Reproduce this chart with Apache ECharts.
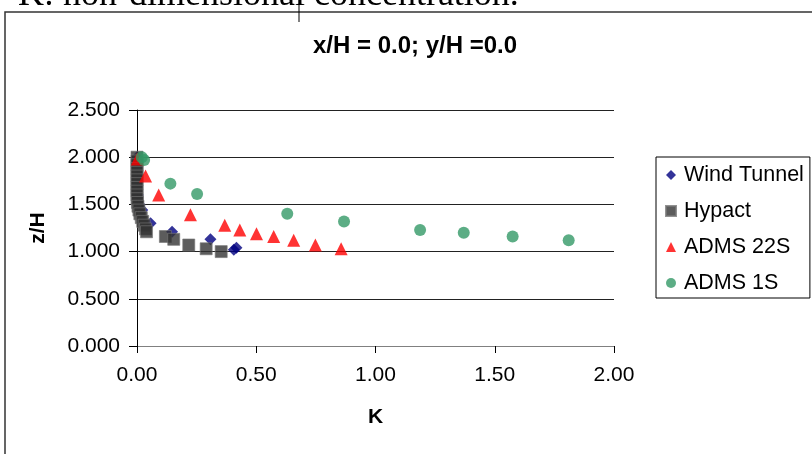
<!DOCTYPE html>
<html>
<head>
<meta charset="utf-8">
<script src="https://cdn.jsdelivr.net/npm/echarts@6/dist/echarts.min.js"></script>
<style>
  html, body { margin: 0; padding: 0; background: #fff; }
  #main { width: 812px; height: 454px; }
</style>
</head>
<body>
<div id="main"></div>
<script>
// values, [K, z/H]
var windTunnel = [
  [0.000, 2.00], [0.000, 1.90], [0.000, 1.80], [0.000, 1.70], [0.004, 1.60],
  [0.010, 1.50], [0.022, 1.44], [0.057, 1.30], [0.147, 1.21], [0.308, 1.13],
  [0.406, 1.02], [0.417, 1.04]
];
var hypact = [
  [0.000, 2.00], [0.000, 1.96], [0.000, 1.92], [0.000, 1.88], [0.000, 1.84],
  [0.000, 1.80], [0.000, 1.76], [0.000, 1.72], [0.000, 1.68], [0.000, 1.64],
  [0.000, 1.60], [0.000, 1.56], [0.002, 1.52], [0.004, 1.48], [0.008, 1.44],
  [0.012, 1.40], [0.018, 1.36], [0.024, 1.32], [0.030, 1.28], [0.036, 1.24],
  [0.040, 1.21], [0.119, 1.16], [0.154, 1.13], [0.217, 1.07], [0.290, 1.03],
  [0.353, 1.00]
];
var adms22S = [
  [0.001, 1.98], [0.036, 1.80], [0.091, 1.60], [0.224, 1.39], [0.368, 1.28],
  [0.431, 1.23], [0.501, 1.19], [0.573, 1.16], [0.657, 1.12], [0.748, 1.07],
  [0.856, 1.03]
];
var adms1S = [
  [0.020, 2.00], [0.030, 1.97], [0.140, 1.72], [0.252, 1.61], [0.630, 1.40],
  [0.868, 1.32], [1.187, 1.23], [1.370, 1.20], [1.575, 1.16], [1.810, 1.12]
];
var seriesNames = ['Wind Tunnel', 'Hypact', 'ADMS 22S', 'ADMS 1S'];

var myChart = echarts.init(document.getElementById('main'));
var font = 'Arial, "Liberation Sans", sans-serif';

var option = {
  animation: false,
  backgroundColor: '#fff',
  title: {
    text: 'x/H = 0.0; y/H =0.0',
    left: 410,
    textAlign: 'center',
    top: 29,
    textStyle: { fontFamily: font, fontWeight: 'bold', fontSize: 24, color: '#000' }
  },
  graphic: [
    {
      type: 'text', left: 18, top: -22,
      style: { text: 'K: non-dimensional concentration.', font: '36px "Liberation Serif", "Times New Roman", serif', fill: '#000' }
    },
    {
      type: 'rect', shape: { x: 5, y: 12, width: 1000, height: 1000 },
      style: { fill: 'none', stroke: '#333', lineWidth: 1.5 }, z: 10
    },
    {
      type: 'line', shape: { x1: 299, y1: 0, x2: 299, y2: 22 },
      style: { stroke: '#000', lineWidth: 1 }, z: 11
    }
  ],
  legend: {
    data: seriesNames,
    orient: 'vertical',
    left: 656,
    top: 157,
    padding: [7, 6, 4, 9],
    itemGap: 14,
    itemWidth: 10,
    itemHeight: 10,
    borderColor: '#000',
    borderWidth: 1,
    borderRadius: 0,
    textStyle: { fontFamily: font, fontSize: 21.5, color: '#000', padding: [0, 0, 0, 3] }
  },
  grid: { left: 137, right: 198, top: 110, bottom: 108 },
  xAxis: {
    type: 'value',
    min: 0, max: 2, interval: 0.5,
    name: 'K',
    nameLocation: 'middle',
    nameGap: 61,
    nameTextStyle: { fontFamily: font, fontWeight: 'bold', fontSize: 21, color: '#000' },
    axisLine: { lineStyle: { color: '#808080', width: 1 } },
    axisTick: { length: 7, lineStyle: { color: '#000' } },
    axisLabel: {
      fontFamily: font, fontSize: 21, color: '#000', margin: 19,
      formatter: function (v) { return v.toFixed(2); }
    },
    splitLine: { show: false }
  },
  yAxis: {
    type: 'value',
    min: 0, max: 2.5, interval: 0.5,
    name: 'z/H',
    nameLocation: 'middle',
    nameRotate: 90,
    nameGap: 88,
    nameTextStyle: { fontFamily: font, fontWeight: 'bold', fontSize: 21, color: '#000' },
    axisLine: { show: true, lineStyle: { color: '#000', width: 1 } },
    axisTick: { show: true, length: 8, lineStyle: { color: '#000' } },
    axisLabel: {
      fontFamily: font, fontSize: 21, color: '#000', margin: 17,
      formatter: function (v) { return v.toFixed(3); }
    },
    splitLine: { show: true, lineStyle: { color: '#222', width: 1 } }
  },
  series: [
    {
      name: seriesNames[0], type: 'scatter', data: windTunnel,
      symbol: 'diamond', symbolSize: 12,
      itemStyle: { color: '#000080' }
    },
    {
      name: seriesNames[1], type: 'scatter', data: hypact,
      symbol: 'rect', symbolSize: 12,
      itemStyle: { color: '#333333', borderColor: '#777', borderWidth: 0.8 }
    },
    {
      name: seriesNames[2], type: 'scatter', data: adms22S,
      symbol: 'triangle', symbolSize: 13,
      itemStyle: { color: '#ff0000' }
    },
    {
      name: seriesNames[3], type: 'scatter', data: adms1S,
      symbol: 'circle', symbolSize: 12,
      itemStyle: { color: '#339966' }
    }
  ]
};

myChart.setOption(option);
</script>
</body>
</html>
